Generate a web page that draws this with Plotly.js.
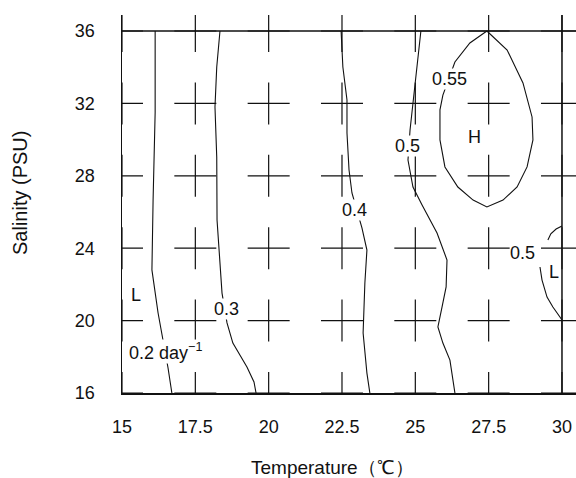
<!DOCTYPE html>
<html><head><meta charset="utf-8">
<script src="https://cdn.plot.ly/plotly-3.0.1.min.js"></script>
<style>html,body{margin:0;padding:0;background:#fff}</style>
</head><body><div id="chart" style="width:576px;height:478px"></div>
<script>
// Axis ticks / grid of sampled points
const tempTicks = [15, 17.5, 20, 22.5, 25, 27.5, 30];
const salTicks = [16, 20, 24, 28, 32, 36];

// Contour isolines (temperature, salinity)
const c02T = [16.13, 16.13, 16.06, 16.02, 16.23, 16.36, 16.57, 16.70];
const c02S = [36, 31.5, 26.66, 22.8, 20.42, 19.31, 17.38, 16];

const c03T = [18.34, 18.23, 18.17, 18.23, 18.24, 18.27, 18.41, 18.58, 18.78, 19.26, 19.50, 19.57];
const c03S = [36, 34.01, 31.8, 29.04, 25.56, 24.84, 21.52, 19.87, 18.76, 17.44, 16.61, 16];

const c04T = [22.47, 22.53, 22.67, 22.67, 22.74, 22.84, 23.18, 23.35, 23.28, 23.22, 23.35, 23.45];
const c04S = [36, 34.01, 32.19, 30.36, 28.32, 27.05, 25.12, 23.90, 22.08, 19.31, 17.10, 16];

const c05T = [25.19, 25.06, 24.92, 24.82, 24.75, 24.92, 25.23, 25.74, 26.08, 26.05, 25.91, 25.77, 25.94, 26.18, 26.35];
const c05S = [36, 34.01, 32.19, 30.53, 28.87, 27.38, 26.39, 24.84, 23.35, 21.86, 20.75, 19.65, 18.76, 17.82, 16];

const c055T = [27.44, 28.13, 28.67, 28.98, 29.01, 28.81, 28.47, 27.99, 27.44, 26.97, 26.45, 26.01, 25.84, 25.84, 25.94, 26.35, 26.86, 27.44];
const c055S = [36, 34.95, 33.13, 31.25, 29.98, 28.49, 27.38, 26.66, 26.28, 26.66, 27.38, 28.49, 29.98, 31.64, 32.46, 34.29, 35.34, 36];

const c05bT = [30.0, 29.80, 29.62, 29.52, null, 29.25, 29.32, 29.49, 29.69, 29.93, 30.0];
const c05bS = [25.23, 25.06, 24.80, 24.45, null, 22.96, 22.24, 21.30, 20.75, 20.20, 20.03];

// Contour labels
const labelText = ['0.55', '0.5', '0.4', '0.3', '0.2 day<sup>\u22121</sup>', '0.5'];
const labelT = [26.18, 24.75, 22.94, 18.55, 15.2, 28.64];
const labelS = [33.35, 29.65, 26.11, 20.64, 18.3, 23.73];

const markText = ['H', 'L', 'L'];
const markT = [27.03, 15.48, 29.73];
const markS = [30.14, 21.41, 22.69];

const gridT = [], gridS = [];
tempTicks.forEach(t => salTicks.forEach(s => { gridT.push(t); gridS.push(s); }));

const ink = '#111';
const lineStyle = {color: ink, width: 1.1};
const mk = (x, y) => ({x, y, type: 'scatter', mode: 'lines', line: lineStyle, hoverinfo: 'skip', showlegend: false, connectgaps: false});

const traces = [
  {x: gridT, y: gridS, type: 'scatter', mode: 'markers', hoverinfo: 'skip', showlegend: false,
   marker: {symbol: 'cross-thin-open', size: 30, color: ink, line: {color: ink, width: 1.2}}},
  mk(c02T, c02S), mk(c03T, c03S), mk(c04T, c04S), mk(c05T, c05S), mk(c055T, c055S), mk(c05bT, c05bS)
];

const font = {family: 'Arial, "Liberation Sans", sans-serif', size: 18, color: ink};
const annotations = [];
labelText.forEach((t, i) => {
  annotations.push({x: labelT[i], y: labelS[i], xref: 'x', yref: 'y', text: t, showarrow: false,
    font: font, bgcolor: i === 5 ? 'rgba(0,0,0,0)' : '#fff', borderpad: 0,
    xanchor: i === 4 ? 'left' : 'center', yanchor: 'middle'});
});
markText.forEach((t, i) => {
  annotations.push({x: markT[i], y: markS[i], xref: 'x', yref: 'y', text: t, showarrow: false,
    font: font, xanchor: 'center', yanchor: 'middle'});
});
annotations.push({x: 0.4626, y: -0.198, xref: 'paper', yref: 'paper', text: 'Temperature\uff08\u2103\uff09',
  showarrow: false, font: Object.assign({}, font, {size: 19}), xanchor: 'center', yanchor: 'middle'});
annotations.push({x: -0.2247, y: 0.529, xref: 'paper', yref: 'paper', text: 'Salinity (PSU)',
  showarrow: false, font: Object.assign({}, font, {size: 20}), textangle: -90, xanchor: 'center', yanchor: 'middle'});

const layout = {
  width: 576, height: 478,
  margin: {l: 122, r: 0, t: 15, b: 85, pad: 0},
  paper_bgcolor: '#fff', plot_bgcolor: '#fff',
  font: font,
  xaxis: {range: [15, 30.478], tickvals: tempTicks, ticktext: tempTicks.map(String),
    showgrid: false, zeroline: false, showline: true, linecolor: ink, linewidth: 1.5,
    ticks: 'outside', ticklen: 17, tickcolor: 'rgba(0,0,0,0)', tickfont: font, fixedrange: true},
  yaxis: {range: [16, 36.884], tickvals: salTicks, ticktext: salTicks.map(String),
    showgrid: false, zeroline: false, showline: true, linecolor: ink, linewidth: 1.5,
    ticks: 'outside', ticklen: 22, tickcolor: 'rgba(0,0,0,0)', tickfont: font, fixedrange: true},
  shapes: [
    {type: 'line', xref: 'paper', yref: 'y', x0: 0, x1: 1, y0: 36, y1: 36, line: {color: ink, width: 1.5}},
    {type: 'line', xref: 'x', yref: 'paper', x0: 30, x1: 30, y0: 0, y1: 1, line: {color: ink, width: 1.5}}
  ],
  annotations: annotations,
  showlegend: false
};

Plotly.newPlot('chart', traces, layout, {displayModeBar: false, staticPlot: true});
</script></body></html>
